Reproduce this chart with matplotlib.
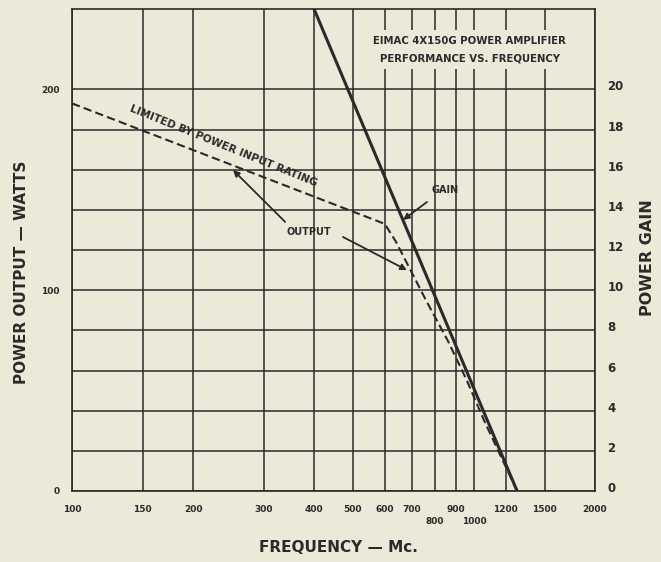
import numpy as np
import matplotlib
matplotlib.use("Agg")
import matplotlib.pyplot as plt
from matplotlib.transforms import ScaledTranslation

# --- data ---
x_major = [100, 150, 200, 300, 400, 500, 600, 700, 900, 1200, 1500, 2000]
x_low = [800, 1000]           # labels set lower on the original
watts_ticks = [0, 100, 200]
watts_grid = [20, 40, 60, 80, 120, 140, 160, 180]
gain_ticks = [0, 2, 4, 6, 8, 10, 12, 14, 16, 18, 20]

out_freq = [100, 600, 640, 764, 860, 960, 1060, 1280]
out_watts = [193, 133, 124, 94, 75, 55, 35, 0]

gain_freq = [400, 1280]
gain_val = [24, 0]

paper = "#ebe9d8"
ink = "#2a2a2a"
plt.rcParams["font.family"] = ["DejaVu Sans"]
plt.rcParams["font.weight"] = "bold"

fig = plt.figure(figsize=(6.61, 5.62), dpi=100, facecolor=paper)
ax = fig.add_axes([72/661, 1-491/562, 523/661, 482/562])
ax.set_facecolor(paper)
ax.set_xscale("log")
ax.set_xlim(100, 2000)
ax.set_ylim(0, 240)

ax.set_xticks(x_major)
ax.set_xticklabels([str(v) for v in x_major])
ax.set_xticks(x_low, minor=True)
ax.set_xticklabels([str(v) for v in x_low], minor=True)
ax.set_yticks(watts_ticks)
ax.set_yticklabels([str(v) for v in watts_ticks])
ax.set_yticks(watts_grid, minor=True)
ax.set_yticklabels([], minor=True)

ax.tick_params(axis="both", which="both", length=0, colors=ink)
ax.tick_params(axis="x", which="major", pad=10, labelsize=6.5)
ax.tick_params(axis="x", which="minor", pad=19, labelsize=6.5)
ax.tick_params(axis="y", which="major", pad=9, labelsize=6.5)
ax.grid(True, which="both", color=ink, lw=1.1)
for sp in ax.spines.values():
    sp.set_color(ink)
    sp.set_linewidth(1.2)

# output curve (dashed)
ax.plot(out_freq, out_watts, color=ink, lw=1.5, dashes=(4, 2),
        dash_joinstyle="round", zorder=4)

# gain on the right scale
ax2 = ax.twinx()
ax2.set_ylim(0, 24)
ax2.set_yticks(gain_ticks)
ax2.set_yticklabels([str(v) for v in gain_ticks])
ax2.tick_params(axis="y", length=0, pad=9, labelsize=8.5, colors=ink)
for lab in ax2.get_yticklabels():
    lab.set_transform(lab.get_transform() + ScaledTranslation(0, 0.04, fig.dpi_scale_trans))
for sp in ax2.spines.values():
    sp.set_visible(False)
ax2.plot(gain_freq, gain_val, color=ink, lw=2.2, zorder=5)

# title box
ax.text(977, 219.8, "EIMAC 4X150G POWER AMPLIFIER\nPERFORMANCE VS. FREQUENCY",
        ha="center", va="center", fontsize=7.3, color=ink, linespacing=1.9,
        bbox=dict(facecolor=paper, edgecolor="none", pad=4), zorder=6)

ax.text(238, 171.8, "LIMITED BY POWER INPUT RATING", ha="center", va="center",
        rotation=-22, rotation_mode="anchor", fontsize=7.6, color=ink, zorder=6)
ax.text(847, 150, "GAIN", ha="center", va="center", fontsize=7, color=ink)
ax.text(388, 129, "OUTPUT", ha="center", va="center", fontsize=7, color=ink)

arrow = dict(arrowstyle="-|>", color=ink, lw=1.3, mutation_scale=9, shrinkA=0, shrinkB=0)
ax.annotate("", xy=(666, 135), xytext=(764, 143.9), arrowprops=arrow)
ax.annotate("", xy=(681, 110), xytext=(472, 126.5), arrowprops=arrow)
ax.annotate("", xy=(251.6, 159.8), xytext=(339, 134), arrowprops=arrow)

fig.text(22/661, 1-272/562, "POWER OUTPUT \u2014 WATTS", rotation=90, ha="center",
         va="center", fontsize=11, color=ink)
fig.text(648/661, 1-258/562, "POWER GAIN", rotation=90, ha="center",
         va="center", fontsize=11.5, color=ink)
fig.text(338/661, 1-548/562, "FREQUENCY \u2014 Mc.", ha="center",
         va="center", fontsize=11, color=ink)

fig.savefig("out.png", dpi=100, facecolor=paper)
